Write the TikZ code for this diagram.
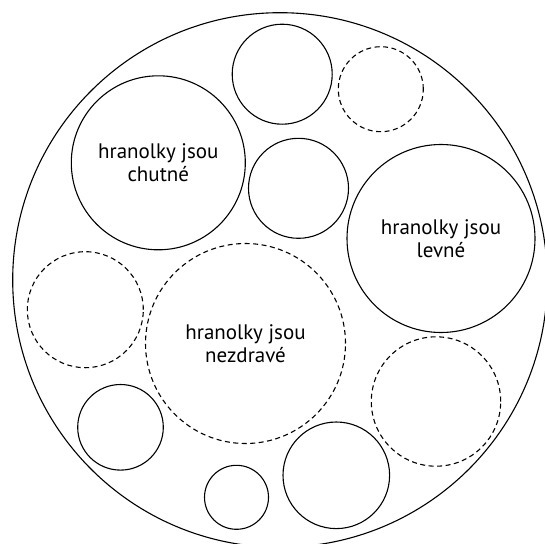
\documentclass[tikz,border=0pt]{standalone}
\usepackage{fontspec}
\setmainfont{PT Sans}
\begin{document}
\begin{tikzpicture}[x=1pt,y=-1pt,
  ring/.style={circle,draw,line width=1.1pt,inner sep=0pt,outer sep=0pt},
  dashring/.style={ring,dash pattern=on 5pt off 3.5pt},
  lbl/.style={align=center,font=\fontsize{21}{23.5}\selectfont}]
\useasboundingbox (0,0) rectangle (545,543);
\clip (0,0) rectangle (545,543);
\node[ring,minimum size=534.6pt] (outer) at (280,280) {};
\node[ring,minimum size=174pt,lbl] (chutne) at (158.3,162.8) {hranolky jsou\\chutné};
\node[ring,minimum size=188pt,lbl] (levne) at (441,238.5) {hranolky jsou\\levné};
\node[dashring,minimum size=200pt,lbl] (nezdrave) at (245.5,343.5) {hranolky jsou\\nezdravé};
\node[ring,minimum size=100pt] (top) at (282.2,74.2) {};
\node[dashring,minimum size=85pt] (topright) at (380.8,89.2) {};
\node[ring,minimum size=100pt] (middle) at (298.5,188.3) {};
\node[dashring,minimum size=116pt] (left) at (85.3,309.7) {};
\node[ring,minimum size=85.6pt] (lowleft) at (120.5,427.3) {};
\node[ring,minimum size=64pt] (small) at (236.5,497.3) {};
\node[ring,minimum size=106.6pt] (bottom) at (336.3,475.3) {};
\node[dashring,minimum size=129.4pt] (lowright) at (436,401.5) {};
\end{tikzpicture}
\end{document}
